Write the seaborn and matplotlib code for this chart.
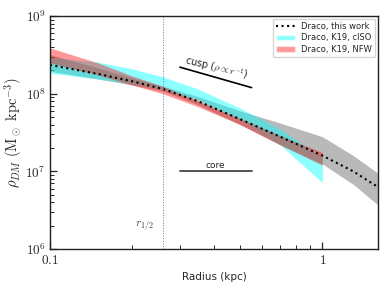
import numpy as np
import pandas as pd
import seaborn as sns
import matplotlib.pyplot as plt
from matplotlib.patches import Patch
from matplotlib.lines import Line2D
from matplotlib.ticker import LogLocator, NullFormatter

# Draco density profile, this work (median + band)
r_this = [0.1, 0.15, 0.2, 0.26, 0.35, 0.5, 0.7, 1.0, 1.3, 1.6]
rho_this = [2.35e8, 1.8e8, 1.45e8, 1.15e8, 8.0e7, 4.7e7, 2.8e7, 1.6e7, 1.0e7, 6.3e6]
rho_this_lo = [1.95e8, 1.55e8, 1.3e8, 1.08e8, 7.2e7, 4.0e7, 2.2e7, 1.25e7, 6.8e6, 3.7e6]
rho_this_hi = [3.2e8, 2.15e8, 1.6e8, 1.25e8, 9.2e7, 6.0e7, 4.2e7, 2.8e7, 1.6e7, 9.5e6]

# K19 bands
r_k19 = [0.1, 0.15, 0.2, 0.26, 0.35, 0.5, 0.7, 1.0]
ciso_lo = [1.85e8, 1.55e8, 1.35e8, 1.15e8, 8.5e7, 4.6e7, 2.2e7, 7.2e6]
ciso_hi = [2.95e8, 2.55e8, 2.1e8, 1.65e8, 1.15e8, 6.5e7, 3.5e7, 1.5e7]
nfw_lo = [2.5e8, 1.75e8, 1.3e8, 1.0e8, 6.8e7, 4.0e7, 2.2e7, 1.2e7]
nfw_hi = [3.9e8, 2.5e8, 1.7e8, 1.25e8, 8.0e7, 4.8e7, 2.9e7, 1.75e7]

r_half = 0.26
guide_r = [0.3, 0.55]
cusp_rho0 = 2.2e8
core_rho = 1.0e7

sns.set_style("white")
plt.rcParams['font.family'] = ['DejaVu Sans']
plt.rcParams['mathtext.fontset'] = 'cm'

fig, ax = plt.subplots(figsize=(3.9, 2.93), dpi=100)
fig.subplots_adjust(left=0.128, right=0.969, bottom=0.150, top=0.945)

df = pd.DataFrame({'r': r_this, 'rho': rho_this})

ax.fill_between(r_this, rho_this_lo, rho_this_hi, color='gray', alpha=0.55, lw=0)
ax.fill_between(r_k19, ciso_lo, ciso_hi, color='cyan', alpha=0.45, lw=0)
ax.fill_between(r_k19, nfw_lo, nfw_hi, color='red', alpha=0.4, lw=0)
sns.lineplot(data=df, x='r', y='rho', ax=ax, color='black', ls=':', lw=1.5)

ax.axvline(r_half, color='steelblue', ls=':', lw=0.7)
ax.text(0.223, 2.0e6, r'$r_{1/2}$', fontsize=8.5, ha='center', va='center', color='#444444')

# guide slopes
cusp = [cusp_rho0, cusp_rho0 * guide_r[0] / guide_r[1]]
ax.plot(guide_r, cusp, color='black', lw=1.2)
ax.text(0.41, 2.08e8, r'cusp ($\rho\propto r^{-1}$)', fontsize=7, rotation=-13,
        ha='center', va='center')
ax.plot(guide_r, [core_rho, core_rho], color='#333333', lw=1.2)
ax.text(0.405, 1.2e7, 'core', fontsize=6.5, ha='center', va='center')

ax.set_xscale('log')
ax.set_yscale('log')
ax.set_xlim(0.1, 1.6)
ax.set_ylim(1e6, 1e9)
ax.set_xticks([0.1, 1])
ax.set_xticklabels([r'$0.1$', r'$1$'])
ax.set_yticks([1e6, 1e7, 1e8, 1e9])
ax.set_yticklabels([r'$10^{6}$', r'$10^{7}$', r'$10^{8}$', r'$10^{9}$'])
ax.xaxis.set_minor_locator(LogLocator(base=10, subs=np.arange(2, 10)))
ax.yaxis.set_minor_locator(LogLocator(base=10, subs=np.arange(2, 10)))
ax.xaxis.set_minor_formatter(NullFormatter())
ax.yaxis.set_minor_formatter(NullFormatter())
ax.tick_params(which='major', direction='in', length=5, width=0.9, labelsize=9.5,
               left=True, bottom=True, pad=3)
ax.tick_params(axis='x', which='major', pad=3.5)
ax.tick_params(which='minor', direction='in', length=3, width=0.7, left=True, bottom=True)
for s in ax.spines.values():
    s.set_linewidth(1.0)
    s.set_color('#222222')

ax.set_xlabel('Radius (kpc)', fontsize=7.5)
ax.set_ylabel(r'$\rho_{DM}\ (\mathrm{M_\odot\ kpc^{-3}})$', fontsize=10.5, labelpad=0)

handles = [Line2D([], [], color='black', ls=':', lw=1.5),
           Patch(facecolor='cyan', alpha=0.45),
           Patch(facecolor='red', alpha=0.4)]
labels = ['Draco, this work', 'Draco, K19, cISO', 'Draco, K19, NFW']
ax.legend(handles, labels, loc='upper right', fontsize=6, frameon=True,
          handlelength=2.2, borderpad=0.4, labelspacing=0.3, borderaxespad=0.3)

fig.savefig('out.png', dpi=100)
